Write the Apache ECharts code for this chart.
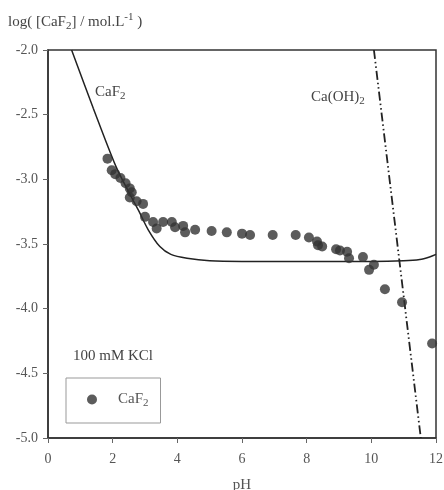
<!DOCTYPE html>
<html>
<head>
<meta charset="utf-8">
<title>CaF2 solubility</title>
<script src="https://cdn.jsdelivr.net/npm/echarts@6/dist/echarts.min.js"></script>
<style>
  html, body { margin: 0; padding: 0; background: #fff; }
  #main { width: 444px; height: 490px; }
</style>
</head>
<body>
<div id="main"></div>
<script>
// measured points (pH, log[CaF2])
var pointPH = [1.84, 1.97, 2.08, 2.24, 2.40, 2.53, 2.59, 2.53, 2.74, 2.94, 3.0, 3.25, 3.36, 3.56, 3.83, 3.93,
               4.18, 4.24, 4.55, 5.06, 5.53, 6.0, 6.25, 6.95, 7.66, 8.07, 8.32, 8.35, 8.48, 8.91, 9.03,
               9.25, 9.31, 9.74, 10.08, 9.93, 10.42, 10.95, 11.88];
var pointLog = [-2.84, -2.93, -2.96, -2.99, -3.03, -3.07, -3.10, -3.14, -3.17, -3.19, -3.29, -3.33, -3.38, -3.33, -3.33, -3.37,
                -3.36, -3.41, -3.39, -3.40, -3.41, -3.42, -3.43, -3.43, -3.43, -3.45, -3.48, -3.51, -3.52, -3.54, -3.55,
                -3.56, -3.61, -3.60, -3.66, -3.70, -3.85, -3.95, -4.27];

// CaF2 model curve
var caf2PH  = [0.73, 1.4, 2.1, 2.5, 2.8, 3.1, 3.46, 3.8, 4.3, 5.0, 6.0, 10.0, 11.0, 11.5, 11.8, 12.0];
var caf2Log = [-2.0, -2.45, -2.90, -3.10, -3.24, -3.39, -3.52, -3.58, -3.61, -3.63, -3.635, -3.635, -3.63, -3.62, -3.60, -3.58];

// Ca(OH)2 line
var caohPH  = [10.08, 11.53];
var caohLog = [-2.0, -5.0];

function pairs(xs, ys) {
  var out = [];
  for (var i = 0; i < xs.length; i++) out.push([xs[i], ys[i]]);
  return out;
}

var serif = 'Liberation Serif';
var textGray = '#555';

var myChart = echarts.init(document.getElementById('main'));

var option = {
  backgroundColor: '#fff',
  animation: false,
  textStyle: { fontFamily: serif },
  grid: {
    left: 48, right: 8, top: 50, bottom: 52,
    outerBoundsMode: 'none',
    containLabel: false,
    show: true, borderColor: '#333', borderWidth: 1.5, backgroundColor: 'transparent'
  },
  xAxis: {
    type: 'value', min: 0, max: 12, interval: 2,
    name: 'pH', nameLocation: 'middle', nameGap: 40,
    nameTextStyle: { fontFamily: serif, fontSize: 15, color: textGray },
    axisLine: { lineStyle: { color: '#333', width: 1.5 } },
    axisTick: { show: true, length: 5, lineStyle: { color: '#666' } },
    axisLabel: { fontFamily: serif, fontSize: 14, color: textGray, margin: 14 },
    splitLine: { show: false }
  },
  yAxis: {
    type: 'value', min: -5, max: -2, interval: 0.5,
    axisLine: { show: true, lineStyle: { color: '#333', width: 1.5 } },
    axisTick: { show: true, length: 5, lineStyle: { color: '#666' } },
    axisLabel: {
      fontFamily: serif, fontSize: 14, color: textGray, margin: 10,
      formatter: function (v) { return v.toFixed(1); }
    },
    splitLine: { show: false }
  },
  legend: {
    left: 66, top: 378,
    orient: 'vertical',
    padding: [14, 12, 14, 21],
    borderColor: '#999', borderWidth: 1,
    itemWidth: 30, itemHeight: 10,
    data: ['CaF2'],
    formatter: function () { return '{a|CaF}{b|2}'; },
    textStyle: {
      fontFamily: serif, fontSize: 15, color: textGray, padding: [0, 0, 0, 6],
      rich: {
        a: { fontFamily: serif, fontSize: 15, color: textGray },
        b: { fontFamily: serif, fontSize: 11, color: textGray, padding: [8, 0, 0, 0] }
      }
    }
  },
  graphic: [
    {
      type: 'text', left: 8, top: 12,
      style: {
        text: 'log( [CaF{s|2}] / mol.L{p|-1} )',
        fontFamily: serif, fontSize: 15, fill: '#444',
        rich: {
          s: { fontFamily: serif, fontSize: 11, fill: '#444', padding: [8, 0, 0, 0] },
          p: { fontFamily: serif, fontSize: 11, fill: '#444', padding: [0, 0, 10, 0] }
        }
      }
    },
    {
      type: 'text', left: 95, top: 85,
      style: {
        text: 'CaF{s|2}', fontFamily: serif, fontSize: 15, fill: '#444',
        rich: { s: { fontFamily: serif, fontSize: 11, fill: '#444', padding: [8, 0, 0, 0] } }
      }
    },
    {
      type: 'text', left: 311, top: 90,
      style: {
        text: 'Ca(OH){s|2}', fontFamily: serif, fontSize: 15, fill: '#444',
        rich: { s: { fontFamily: serif, fontSize: 11, fill: '#444', padding: [8, 0, 0, 0] } }
      }
    },
    {
      type: 'text', left: 73, top: 349,
      style: { text: '100 mM KCl', fontFamily: serif, fontSize: 15, fill: '#444' }
    }
  ],
  series: [
    {
      name: 'CaF2 model', type: 'line', smooth: 0.3, showSymbol: false,
      data: pairs(caf2PH, caf2Log),
      lineStyle: { color: '#222', width: 1.5 }
    },
    {
      name: 'Ca(OH)2', type: 'line', showSymbol: false,
      data: pairs(caohPH, caohLog),
      lineStyle: { color: '#222', width: 1.8, type: [9, 3, 1.5, 3, 1.5, 3] }
    },
    {
      name: 'CaF2', type: 'scatter', symbol: 'circle', symbolSize: 10,
      data: pairs(pointPH, pointLog),
      itemStyle: { color: '#333' },
      z: 5
    }
  ]
};

myChart.setOption(option);
</script>
</body>
</html>
